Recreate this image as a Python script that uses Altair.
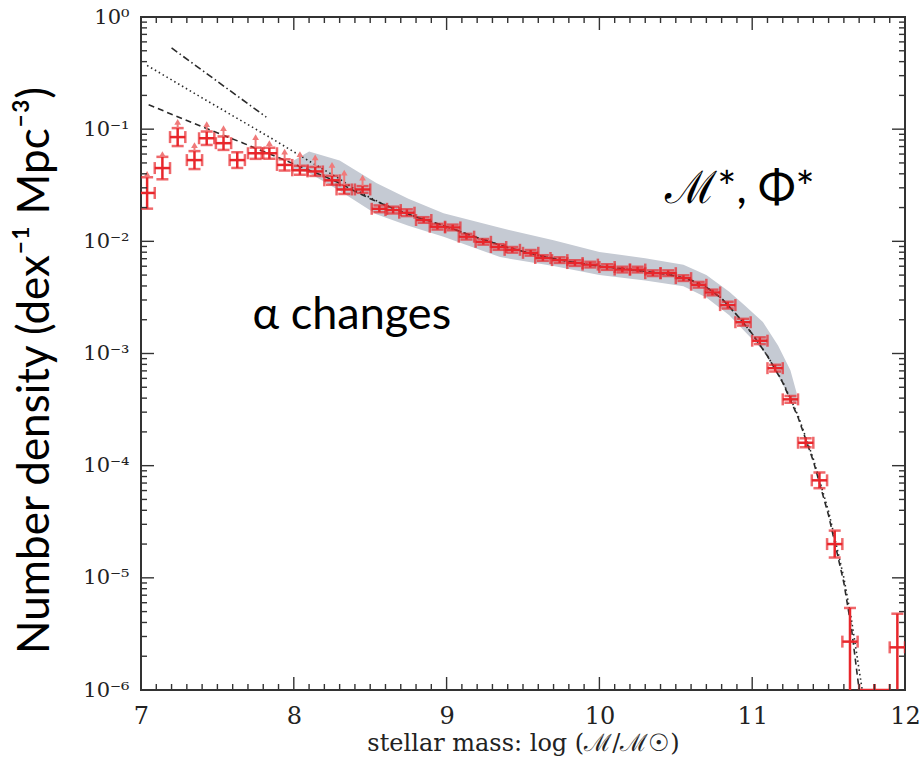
import altair as alt
import pandas as pd

# ---------------- data ----------------
mass = [7.04, 7.14, 7.24, 7.35, 7.43, 7.54, 7.63, 7.75, 7.84, 7.94,
        8.04, 8.14, 8.25, 8.33, 8.45, 8.56, 8.65, 8.74, 8.85, 8.94,
        9.04, 9.13, 9.24, 9.34, 9.43, 9.55, 9.63, 9.74, 9.84, 9.94,
        10.05, 10.15, 10.25, 10.35, 10.45, 10.55, 10.65, 10.74, 10.84, 10.94,
        11.05, 11.15, 11.25, 11.35, 11.44, 11.54, 11.64, 11.95]
phi = [0.027, 0.045, 0.085, 0.053, 0.083, 0.075, 0.053, 0.061, 0.061, 0.048,
       0.043, 0.042, 0.035, 0.029, 0.029, 0.0195, 0.019, 0.018, 0.0155, 0.0135,
       0.0133, 0.011, 0.0099, 0.0089, 0.0084, 0.0079, 0.0071, 0.0068, 0.0064, 0.0062,
       0.0059, 0.0056, 0.0056, 0.0052, 0.0052, 0.0047, 0.0041, 0.0035, 0.0027, 0.0019,
       0.0013, 0.00074, 0.00039, 0.00016, 7.4e-5, 2.0e-5, 2.7e-6, 2.4e-6]
err_up = [0.14, 0.10, 0.08, 0.08, 0.06, 0.06, 0.07, 0.05, 0.05, 0.05,
          0.04, 0.04, 0.04, 0.04, 0.03, 0.03, 0.03, 0.03, 0.025, 0.025,
          0.025, 0.025, 0.025, 0.025, 0.025, 0.025, 0.025, 0.025, 0.025, 0.025,
          0.025, 0.025, 0.025, 0.025, 0.025, 0.025, 0.025, 0.025, 0.03, 0.03,
          0.03, 0.03, 0.03, 0.04, 0.07, 0.12, 0.30, 0.30]
err_dn = [0.14, 0.10, 0.08, 0.08, 0.06, 0.06, 0.07, 0.05, 0.05, 0.05,
          0.04, 0.04, 0.04, 0.04, 0.03, 0.03, 0.03, 0.03, 0.025, 0.025,
          0.025, 0.025, 0.025, 0.025, 0.025, 0.025, 0.025, 0.025, 0.025, 0.025,
          0.025, 0.025, 0.025, 0.025, 0.025, 0.025, 0.025, 0.025, 0.03, 0.03,
          0.03, 0.03, 0.03, 0.04, 0.07, 0.12, 1.0, 1.0]
bin_half = 0.05

# empty bins drawn on the lower edge
empty_mass = [11.75, 11.85]
empty_phi = [1e-6, 1e-6]

# light-red upward arrows above the low-mass points
arrow_mass = [7.04, 7.14, 7.24, 7.35, 7.43, 7.54, 7.75, 7.84, 7.94,
              8.04, 8.14, 8.25, 8.33, 8.45]
arrow_tip = [0.040, 0.060, 0.116, 0.072, 0.111, 0.102, 0.085, 0.075, 0.063,
             0.060, 0.056, 0.048, 0.041, 0.037]

# fitted Schechter curves
dashdot_x = [7.20, 7.82]
dashdot_y = [0.53, 0.128]

dotted_x = [7.04, 7.4, 7.84, 8.1, 8.3, 8.4, 8.5, 8.6, 8.7, 8.8, 8.9, 9.0, 9.2, 9.4,
            9.6, 9.8, 10.0, 10.2, 10.4, 10.5, 10.6, 10.7, 10.8, 10.9, 11.0, 11.1,
            11.2, 11.3, 11.4, 11.5, 11.6, 11.65, 11.72]
dotted_y = [0.37, 0.19, 0.085, 0.052, 0.036, 0.029, 0.0245, 0.021, 0.0185, 0.0165,
            0.015, 0.0135, 0.0108, 0.0088, 0.0075, 0.0066, 0.006, 0.0056, 0.0052,
            0.0049, 0.0045, 0.0039, 0.0031, 0.0022, 0.0015, 0.00095, 0.00056,
            0.00028, 0.000115, 3.9e-5, 1.0e-5, 4.2e-6, 1.0e-6]

dashed_x = [7.05, 7.4, 7.67, 8.0, 8.2, 8.3, 8.4, 8.5, 8.6, 8.7, 8.8, 8.9, 9.0, 9.2,
            9.4, 9.6, 9.8, 10.0, 10.2, 10.4, 10.5, 10.6, 10.7, 10.8, 10.9, 11.0,
            11.1, 11.2, 11.3, 11.4, 11.5, 11.6, 11.65, 11.7]
dashed_y = [0.165, 0.105, 0.075, 0.049, 0.038, 0.033, 0.028, 0.024, 0.021, 0.0185,
            0.0165, 0.015, 0.0135, 0.0108, 0.0088, 0.0075, 0.0066, 0.006, 0.0056,
            0.0052, 0.0049, 0.0045, 0.0039, 0.0031, 0.0022, 0.0015, 0.00095,
            0.00055, 0.00027, 0.00011, 3.6e-5, 9e-6, 3.5e-6, 1.0e-6]

# grey uncertainty band
band_x = [8.0, 8.1, 8.3, 8.54, 8.75, 8.98, 9.35, 9.7, 10.0, 10.3, 10.55, 10.7,
          10.85, 10.95, 11.07, 11.17, 11.25, 11.29]
band_hi = [0.0525, 0.0631, 0.0525, 0.0331, 0.0240, 0.0178, 0.0132, 0.0102,
           0.00804, 0.00708, 0.00617, 0.00501, 0.00355, 0.00269, 0.00191,
           0.00117, 0.00071, 0.00045]
band_lo = [0.0437, 0.0407, 0.0282, 0.0174, 0.0138, 0.0110, 0.00724, 0.00603,
           0.00501, 0.00447, 0.00398, 0.00316, 0.00219, 0.00158, 0.00107,
           0.00063, 0.00039, 0.00035]

# annotations
notes_text = ["α changes", "ℳ*, Φ*"]
notes_x = [8.38, 10.92]
notes_y = [0.0022, 0.029]

# axis ticks
x_major = [7, 8, 9, 10, 11, 12]
x_minor = [round(7 + 0.1 * i, 1) for i in range(51) if i % 10]
y_major = [1e-6, 1e-5, 1e-4, 1e-3, 1e-2, 1e-1, 1.0]
y_minor = [k * 10.0 ** e for e in range(-6, 0) for k in range(2, 10)]

# ---------------- frames ----------------
pts = pd.DataFrame({"mass": mass, "phi": phi, "eu": err_up, "ed": err_dn})
pts["hi"] = pts["phi"] * 10 ** pts["eu"]
pts["lo"] = pts["phi"] / 10 ** pts["ed"]
pts["xlo"] = pts["mass"] - bin_half
pts["xhi"] = pts["mass"] + bin_half

emp = pd.DataFrame({"mass": empty_mass, "phi": empty_phi})
emp["xlo"] = emp["mass"] - bin_half
emp["xhi"] = emp["mass"] + bin_half

xerr = pd.concat([pts[["mass", "phi", "xlo", "xhi"]], emp], ignore_index=True)

vcaps = pd.DataFrame({"x": list(pts["mass"]) * 2, "y": list(pts["lo"]) + list(pts["hi"])})
hcaps = pd.DataFrame({"x": list(xerr["xlo"]) + list(xerr["xhi"]), "y": list(xerr["phi"]) * 2})

arr = pd.DataFrame({"mass": arrow_mass, "tip": arrow_tip})
arr = arr.merge(pts[["mass", "hi"]], on="mass", how="left")

band = pd.DataFrame({"x": band_x, "hi": band_hi, "lo": band_lo})
dd = pd.DataFrame({"x": dashdot_x, "y": dashdot_y})
dt = pd.DataFrame({"x": dotted_x, "y": dotted_y})
ds = pd.DataFrame({"x": dashed_x, "y": dashed_y})
notes = pd.DataFrame({"t": notes_text, "x": notes_x, "y": notes_y})

xmaj = pd.DataFrame({"v": x_major})
xmin = pd.DataFrame({"v": x_minor})
ymaj = pd.DataFrame({"v": y_major})
ymin = pd.DataFrame({"v": y_minor})

# ---------------- chart ----------------
W, H = 764, 673
RED = "#e8262b"
LIGHTRED = "#f07a7a"
LINE = "#2a2a2a"

xs = alt.Scale(domain=[7, 12], nice=False, zero=False)
ys = alt.Scale(type="log", domain=[1e-6, 1.0], nice=False)

x_axis = alt.Axis(values=x_major, format="d", ticks=False, domain=False, grid=False,
                  labelFont="DejaVu Serif", labelFontSize=24, labelColor="#222",
                  labelPadding=14, labelFlush=False, labelOverlap=False,
                  title="stellar mass: log (ℳ/ℳ☉)", titleFont="DejaVu Serif",
                  titleFontSize=24, titleFontWeight="normal", titleColor="#222",
                  titlePadding=3)
y_axis = alt.Axis(values=y_major, ticks=False, domain=False, grid=False,
                  labelExpr="'10' + (datum.value >= 1 ? '⁰' : '⁻' + ['⁰','¹','²','³','⁴','⁵','⁶'][round(-log(datum.value)/LN10)])",
                  labelFont="DejaVu Serif", labelFontSize=21, labelColor="#222",
                  labelPadding=12, labelFlush=False, labelOverlap=False,
                  title="Number density (dex⁻¹ Mpc⁻³)", titleFont="Lato",
                  titleFontSize=44, titleFontWeight="normal", titleColor="#000",
                  titleAngle=-90, titleX=-93, titleY=353, titleAlign="center",
                  titleBaseline="alphabetic")

band_layer = alt.Chart(band).mark_area(color="#c5cad3", clip=True).encode(
    x=alt.X("x:Q", scale=xs, axis=x_axis),
    y=alt.Y("hi:Q", scale=ys, axis=y_axis),
    y2="lo:Q",
)

def curve(df, dash):
    return alt.Chart(df).mark_line(color=LINE, strokeWidth=1.6, strokeDash=dash, clip=True).encode(
        x=alt.X("x:Q", scale=xs),
        y=alt.Y("y:Q", scale=ys),
    )

dashdot_layer = curve(dd, [7, 3, 1.5, 3])
dotted_layer = curve(dt, [1.5, 3])
dashed_layer = curve(ds, [6, 4])

xerr_layer = alt.Chart(xerr).mark_rule(color=RED, strokeWidth=2.5, clip=True).encode(
    x=alt.X("xlo:Q", scale=xs), x2="xhi:Q",
    y=alt.Y("phi:Q", scale=ys),
)
yerr_layer = alt.Chart(pts).mark_rule(color=RED, strokeWidth=2.5, clip=True).encode(
    x=alt.X("mass:Q", scale=xs),
    y=alt.Y("lo:Q", scale=ys), y2="hi:Q",
)
vcap_layer = alt.Chart(vcaps).mark_tick(color=RED, orient="horizontal", size=12,
                                        thickness=2.5, clip=True).encode(
    x=alt.X("x:Q", scale=xs),
    y=alt.Y("y:Q", scale=ys),
)
hcap_layer = alt.Chart(hcaps).mark_tick(color=RED, orient="vertical", size=12,
                                        thickness=2.5, clip=True).encode(
    x=alt.X("x:Q", scale=xs),
    y=alt.Y("y:Q", scale=ys),
)
arrow_stem = alt.Chart(arr).mark_rule(color=LIGHTRED, strokeWidth=2).encode(
    x=alt.X("mass:Q", scale=xs),
    y=alt.Y("hi:Q", scale=ys), y2="tip:Q",
)
arrow_head = alt.Chart(arr).mark_point(shape="triangle-up", filled=True, size=45,
                                       color=LIGHTRED, opacity=1).encode(
    x=alt.X("mass:Q", scale=xs),
    y=alt.Y("tip:Q", scale=ys),
)

note_layer = alt.Chart(notes).mark_text(font="Lato", fontSize=45, color="#000",
                                        align="center", baseline="middle").encode(
    x=alt.X("x:Q", scale=xs),
    y=alt.Y("y:Q", scale=ys),
    text="t:N",
)

TMAJ, TMIN = 13, 6
def xticks(df, length):
    bot = alt.Chart(df).mark_rule(color="#333", strokeWidth=1.4).encode(
        x=alt.X("v:Q", scale=xs), y=alt.value(H), y2=alt.value(H - length))
    top = alt.Chart(df).mark_rule(color="#333", strokeWidth=1.4).encode(
        x=alt.X("v:Q", scale=xs), y=alt.value(0), y2=alt.value(length))
    return bot + top

def yticks(df, length):
    left = alt.Chart(df).mark_rule(color="#333", strokeWidth=1.4).encode(
        y=alt.Y("v:Q", scale=ys), x=alt.value(0), x2=alt.value(length))
    right = alt.Chart(df).mark_rule(color="#333", strokeWidth=1.4).encode(
        y=alt.Y("v:Q", scale=ys), x=alt.value(W), x2=alt.value(W - length))
    return left + right

chart = alt.layer(
    band_layer,
    dashdot_layer, dotted_layer, dashed_layer,
    xerr_layer, yerr_layer, vcap_layer, hcap_layer,
    arrow_stem, arrow_head,
    note_layer,
    xticks(xmaj, TMAJ), xticks(xmin, TMIN),
    yticks(ymaj, TMAJ), yticks(ymin, TMIN),
).properties(
    width=W, height=H,
    autosize=alt.AutoSizeParams(type="none"),
    padding={"left": 141, "top": 17, "right": 15, "bottom": 74},
    background="white",
).configure_view(stroke="#333", strokeWidth=2)

chart.save("out.html", embed_options={"renderer": "svg", "actions": False})
